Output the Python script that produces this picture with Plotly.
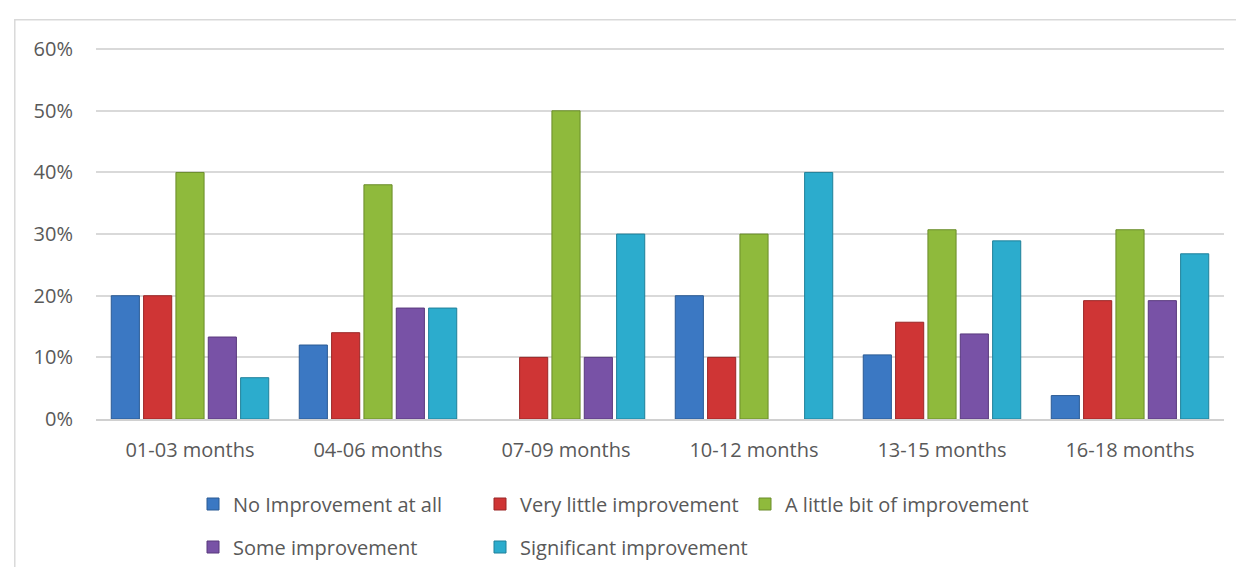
import plotly.graph_objs as go

# survey periods
categories = ['01-03 months', '04-06 months', '07-09 months',
              '10-12 months', '13-15 months', '16-18 months']

# share of respondents per answer (fractions)
no_improvement = [0.200, 0.120, 0.000, 0.200, 0.104, 0.038]
very_little = [0.200, 0.140, 0.100, 0.100, 0.157, 0.192]
little_bit = [0.400, 0.380, 0.500, 0.300, 0.307, 0.307]
some = [0.133, 0.180, 0.100, 0.000, 0.138, 0.192]
significant = [0.067, 0.180, 0.300, 0.400, 0.289, 0.268]

series = [
    ('No Improvement at all', no_improvement, '#3b78c3', '#2a5a94'),
    ('Very little improvement', very_little, '#cf3535', '#9a2626'),
    ('A little bit of improvement', little_bit, '#8fba3c', '#6a8c2a'),
    ('Some improvement', some, '#7852a6', '#59397d'),
    ('Significant improvement', significant, '#2caccd', '#1f809a'),
]

FONT = 'Open Sans'
TXT = '#595959'
W, H = 1244, 567

# one legend per entry so the entries sit where Excel put them
legend_pos = [(185, 496), (472, 496), (737, 496), (185, 539), (472, 539)]
legend_names = ['legend', 'legend2', 'legend3', 'legend4', 'legend5']

fig = go.Figure()
for (name, vals, col, edge), leg in zip(series, legend_names):
    fig.add_trace(go.Bar(
        x=categories, y=vals, name=name, legend=leg, showlegend=True,
        marker=dict(color=col,
                    line=dict(color=edge, width=[0 if v == 0 else 1 for v in vals]))))

legends = {}
for leg, (px, py) in zip(legend_names, legend_pos):
    legends[leg] = dict(orientation='h', xref='container', yref='container',
                        x=px / W, xanchor='left', y=1 - py / H, yanchor='middle',
                        font=dict(family=FONT, size=20, color=TXT),
                        itemclick=False, bgcolor='rgba(0,0,0,0)', visible=True)

fig.update_layout(
    width=W, height=H, showlegend=True,
    margin=dict(l=88, r=28, t=39, b=156, autoexpand=False),
    paper_bgcolor='white', plot_bgcolor='white',
    barmode='group', bargap=0.14, bargroupgap=0.13,
    font=dict(family=FONT, size=20, color=TXT),
    shapes=[dict(type='rect', xref='paper', yref='paper', x0=-0.072, x1=1.1,
                 y0=-0.5, y1=1.073, line=dict(color='#d9d9d9', width=1.5))],
    **legends,
)
# a little above 60% so the top gridline is drawn too
fig.update_yaxes(range=[0, 0.6035], dtick=0.1, tickformat='.0%', showgrid=True,
                 gridcolor='#d9d9d9', gridwidth=1.5, zeroline=False,
                 ticks='', ticklabelstandoff=22)
fig.update_xaxes(showline=True, linecolor='#d0d0d0', linewidth=1.5, ticks='',
                 ticklabelstandoff=12)

fig.write_html('out.html')
